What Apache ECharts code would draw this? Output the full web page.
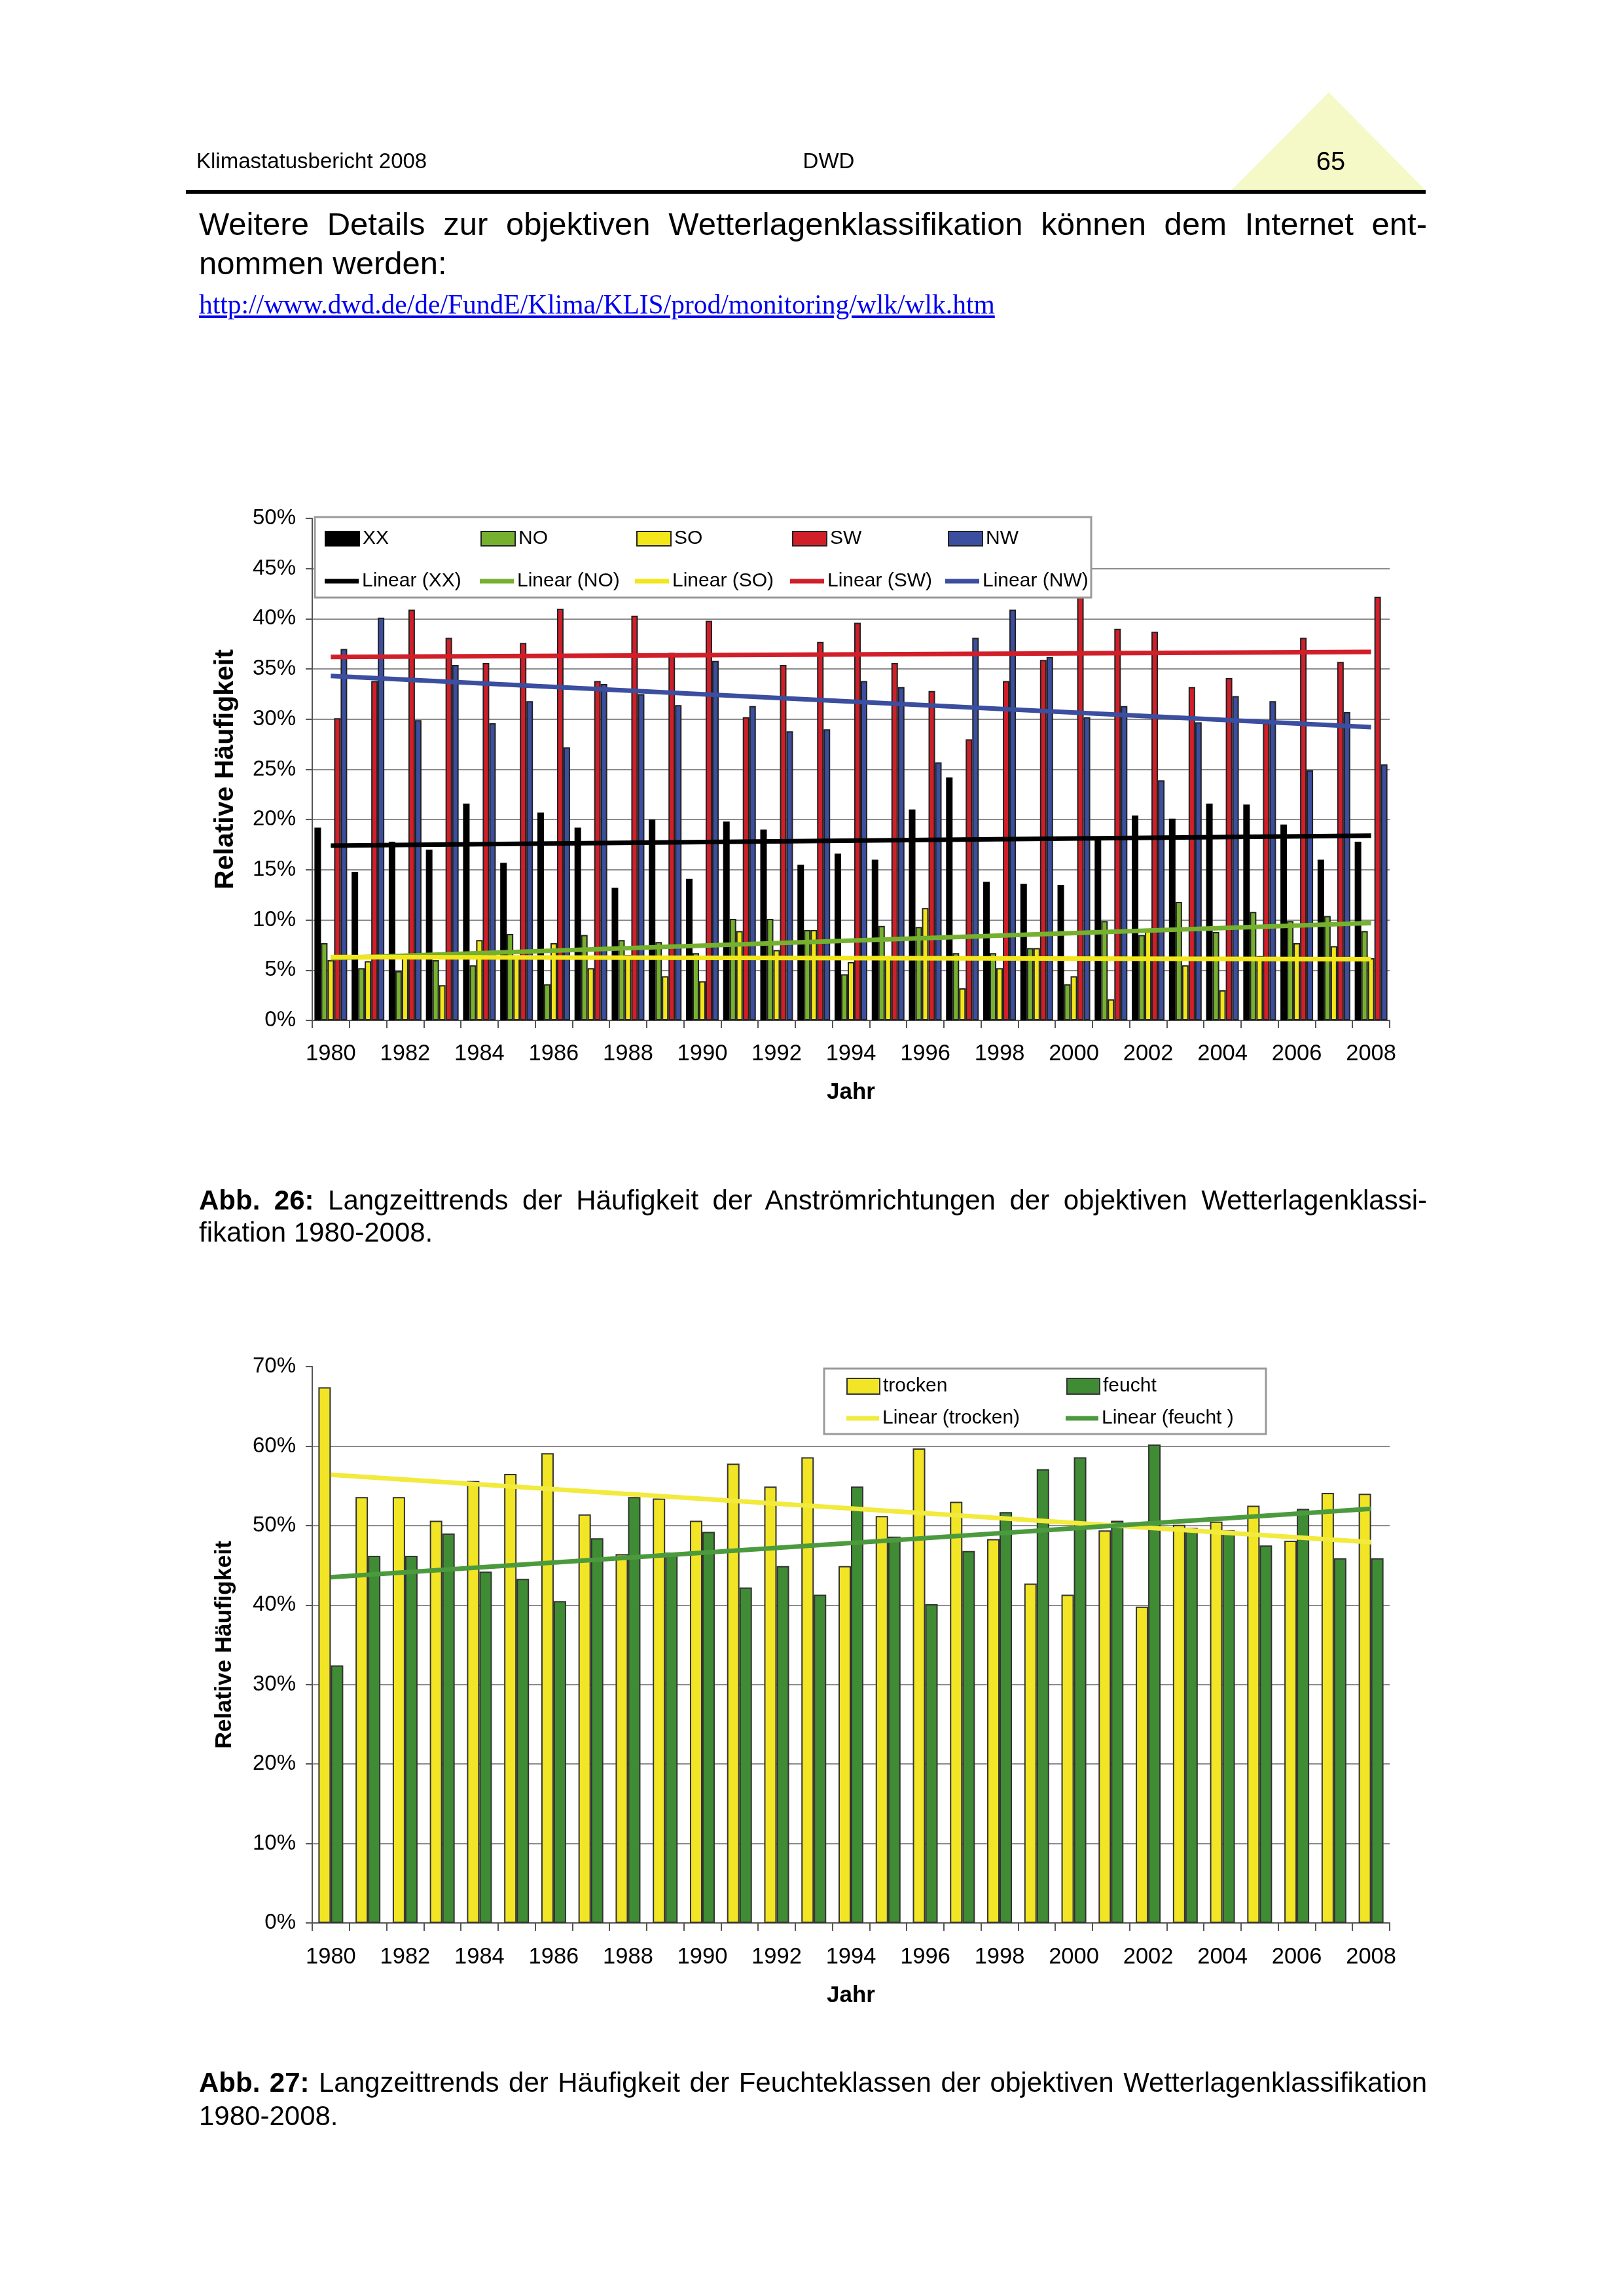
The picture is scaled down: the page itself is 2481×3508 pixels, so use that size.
<!DOCTYPE html>
<html><head><meta charset="utf-8">
<script src="https://cdn.jsdelivr.net/npm/echarts@6/dist/echarts.min.js"></script>
<style>
html,body{margin:0;padding:0;background:#fff;}
#page{position:relative;width:2481px;height:3508px;overflow:hidden;font-family:"Liberation Sans",Arial,sans-serif;color:#000;background:#fff;}
#chart{position:absolute;left:0;top:0;width:2481px;height:3508px;}
.t{position:absolute;white-space:nowrap;}
.j{text-align:justify;text-align-last:justify;}
</style></head>
<body><div id="page">
<div id="chart"></div>
<svg style="position:absolute;left:0;top:0" width="2481" height="320">
  <polygon points="2030,141 1878,294 2181,294" fill="#f4f9c7"/>
  <rect x="284" y="290" width="1894" height="6" fill="#000"/>
</svg>
<div class="t" style="left:300px;top:229px;font-size:33px;line-height:34px;">Klimastatusbericht 2008</div>
<div class="t" style="left:1266px;top:229px;font-size:33px;line-height:34px;transform:translateX(-50%);">DWD</div>
<div class="t" style="left:2033px;top:226px;font-size:40px;line-height:40px;transform:translateX(-50%);">65</div>
<div class="t j" style="left:304px;top:316px;width:1876px;font-size:49px;line-height:52px;">Weitere Details zur objektiven Wetterlagenklassifikation können dem Internet ent-</div>
<div class="t" style="left:304px;top:376px;font-size:49px;line-height:52px;">nommen werden:</div>
<div class="t" style="left:304px;top:443px;font-size:41.5px;line-height:44px;font-family:'Liberation Serif','Times New Roman',serif;color:#0000ee;text-decoration:underline;">http://www.dwd.de/de/FundE/Klima/KLIS/prod/monitoring/wlk/wlk.htm</div>
<div class="t j" style="left:304px;top:1812px;width:1876px;font-size:42px;line-height:44px;"><b>Abb. 26:</b> Langzeittrends der Häufigkeit der Anströmrichtungen der objektiven Wetterlagenklassi-</div>
<div class="t" style="left:304px;top:1861px;font-size:42px;line-height:44px;">fikation 1980-2008.</div>
<div class="t j" style="left:304px;top:3160px;width:1876px;font-size:42px;line-height:44px;"><b>Abb. 27:</b> Langzeittrends der Häufigkeit der Feuchteklassen der objektiven Wetterlagenklassifikation</div>
<div class="t" style="left:304px;top:3211px;font-size:42px;line-height:44px;">1980-2008.</div>
</div>
<script>
// ---- data ----
const years = ['1980','1981','1982','1983','1984','1985','1986','1987','1988','1989','1990','1991','1992','1993','1994','1995','1996','1997','1998','1999','2000','2001','2002','2003','2004','2005','2006','2007','2008'];
const valXX = [19.2,14.8,17.8,17.0,21.6,15.7,20.7,19.2,13.2,20.0,14.1,19.8,19.0,15.5,16.6,16.0,21.0,24.2,13.8,13.6,13.5,18.0,20.4,20.1,21.6,21.5,19.5,16.0,17.8];
const valNO = [7.7,5.2,4.9,6.0,5.5,8.6,3.6,8.5,8.0,7.8,6.7,10.1,10.1,9.0,4.6,9.4,9.3,6.7,6.7,7.2,3.6,9.9,8.5,11.8,8.8,10.8,9.9,10.4,8.9];
const valSO = [6.0,5.9,6.6,3.5,8.0,6.2,7.7,5.2,6.5,4.4,3.9,8.9,7.0,9.0,5.8,6.2,11.2,3.2,5.2,7.2,4.4,2.1,9.0,5.5,3.0,6.4,7.7,7.4,6.2];
const valSW = [30.1,33.8,40.9,38.1,35.6,37.6,41.0,33.8,40.3,36.6,39.8,30.2,35.4,37.7,39.6,35.6,32.8,28.0,33.8,35.9,48.0,39.0,38.7,33.2,34.1,29.6,38.1,35.7,42.2];
const valNW = [37.0,40.1,29.9,35.4,29.6,31.8,27.2,33.5,32.5,31.4,35.8,31.3,28.8,29.0,33.8,33.2,25.7,38.1,40.9,36.2,30.2,31.3,23.9,29.7,32.3,31.8,24.9,30.7,25.5];
// trend line end values (1980, 2008)
const trendXX = [17.4, 18.4];
const trendNO = [6.2, 9.7];
const trendSO = [6.3, 6.1];
const trendSW = [36.2, 36.7];
const trendNW = [34.3, 29.2];

const valTrocken = [67.4,53.6,53.6,50.6,55.6,56.5,59.1,51.4,46.4,53.4,50.6,57.8,54.9,58.6,44.9,51.2,59.7,53.0,48.3,42.7,41.3,49.4,39.8,50.1,50.5,52.5,48.1,54.1,54.0];
const valFeucht = [32.4,46.2,46.2,49.0,44.2,43.3,40.5,48.4,53.6,46.6,49.2,42.2,44.9,41.3,54.9,48.6,40.1,46.8,51.7,57.1,58.6,50.6,60.2,49.7,49.4,47.5,52.1,45.9,45.9];
const trendTrocken = [56.4, 47.9];
const trendFeucht = [43.5, 52.1];

const namesBars1 = ['XX','NO','SO','SW','NW'];
const namesLines1 = ['Linear (XX)','Linear (NO)','Linear (SO)','Linear (SW)','Linear (NW)'];
const namesBars2 = ['trocken','feucht'];
const namesLines2 = ['Linear (trocken)','Linear (feucht )'];
const yName = 'Relative Häufigkeit';
const xName = 'Jahr';

// ---- styles ----
const FF = '"Liberation Sans", Arial, sans-serif';
const cXX = '#000000', cNO = '#76b02f', cSO = '#f3e61a', cSW = '#d11f2a', cNW = '#3b4e9f';
const cTro = '#f1e526', cFeu = '#3f8c35', cTroL = '#f2ea3c', cFeuL = '#4c9a3e';

function bar(name, data, color, ai, w, border) {
  return {type:'bar', name, data, xAxisIndex:ai, yAxisIndex:ai, barWidth:w, barGap:'0%',
    itemStyle:{color, borderColor:border, borderWidth:2}, z:2, silent:true};
}
function trend(name, ends, color, ai) {
  const n = years.length;
  const d = years.map((y,i)=> i===0 ? ends[0] : (i===n-1 ? ends[1] : null));
  return {type:'line', name, data:d, xAxisIndex:ai, yAxisIndex:ai, connectNulls:true,
    symbol:'none', lineStyle:{color, width:7}, itemStyle:{color}, z:5, silent:true};
}
function xAx(gi) {
  return {type:'category', gridIndex:gi, data:years,
    axisLine:{show:true, lineStyle:{color:'#555', width:2}},
    axisTick:{show:true, interval:0, length:12, lineStyle:{color:'#555', width:2}},
    axisLabel:{interval:1, fontSize:34.5, color:'#000', fontFamily:FF, margin:gi?35:34},
    splitLine:{show:false},
    name:xName, nameLocation:'middle', nameGap:gi?94:93,
    nameTextStyle:{fontSize:35, fontWeight:'bold', color:'#000', fontFamily:FF}};
}
function yAx(gi, max, step) {
  return {type:'value', gridIndex:gi, min:0, max, interval:step,
    axisLine:{show:true, lineStyle:{color:'#555', width:2}},
    axisTick:{show:true, length:10, lineStyle:{color:'#555', width:2}},
    axisLabel:{formatter:'{value}%', fontSize:33, color:'#000', fontFamily:FF, margin:25},
    splitLine:{show:true, showMaxLine:false, lineStyle:{color:'#8c8c8c', width:2}},
    name:yName, nameLocation:'middle', nameRotate:90, nameGap:gi?116:112,
    nameTextStyle:{fontSize:gi?35.5:41, fontWeight:'bold', color:'#000', fontFamily:FF}};
}
const legTxt = (w)=>({fontSize:30, color:'#000', fontFamily:FF, width:w, lineHeight:34});

const option = {
  animation:false,
  backgroundColor:'transparent',
  grid:[{left:477, top:792, width:1646, height:767},
        {left:477, top:2088, width:1646, height:850}],
  xAxis:[xAx(0), xAx(1)],
  yAxis:[yAx(0,50,5), yAx(1,70,10)],
  graphic:[
    {type:'rect', shape:{x:481, y:790, width:1186, height:123}, style:{fill:'#fff', stroke:'#9a9a9a', lineWidth:3}, z:50, silent:true},
    {type:'rect', shape:{x:1259, y:2091, width:675, height:100}, style:{fill:'#fff', stroke:'#9a9a9a', lineWidth:3}, z:50, silent:true}
  ],
  legend:[
    {data:namesBars1, left:496, top:806, itemWidth:52, itemHeight:22, itemGap:0, padding:0, selectedMode:false, icon:'rect', textStyle:legTxt(180), z:60},
    {data:namesLines1, left:496, top:871, itemWidth:52, itemHeight:7, itemGap:0, padding:0, selectedMode:false, icon:'rect', textStyle:legTxt(180), z:60},
    {data:namesBars2, left:1293, top:2101, itemWidth:50, itemHeight:24, itemGap:0, padding:0, selectedMode:false, icon:'rect', textStyle:legTxt(280), z:60},
    {data:namesLines2, left:1293, top:2150, itemWidth:50, itemHeight:7, itemGap:0, padding:0, selectedMode:false, icon:'rect', textStyle:legTxt(280), z:60}
  ],
  series:[
    bar('XX', valXX, cXX, 0, 10, '#000'),
    bar('NO', valNO, cNO, 0, 10, '#222'),
    bar('SO', valSO, cSO, 0, 10, '#222'),
    bar('SW', valSW, cSW, 0, 10, '#222'),
    bar('NW', valNW, cNW, 0, 10, '#222'),
    trend('Linear (XX)', trendXX, cXX, 0),
    trend('Linear (NO)', trendNO, cNO, 0),
    trend('Linear (SO)', trendSO, cSO, 0),
    trend('Linear (SW)', trendSW, cSW, 0),
    trend('Linear (NW)', trendNW, cNW, 0),
    bar('trocken', valTrocken, cTro, 1, 19, '#333'),
    bar('feucht', valFeucht, cFeu, 1, 19, '#333'),
    trend('Linear (trocken)', trendTrocken, cTroL, 1),
    trend('Linear (feucht )', trendFeucht, cFeuL, 1)
  ]
};
const chart = echarts.init(document.getElementById('chart'), null, {renderer:'canvas'});
chart.setOption(option);
</script>
</body></html>
